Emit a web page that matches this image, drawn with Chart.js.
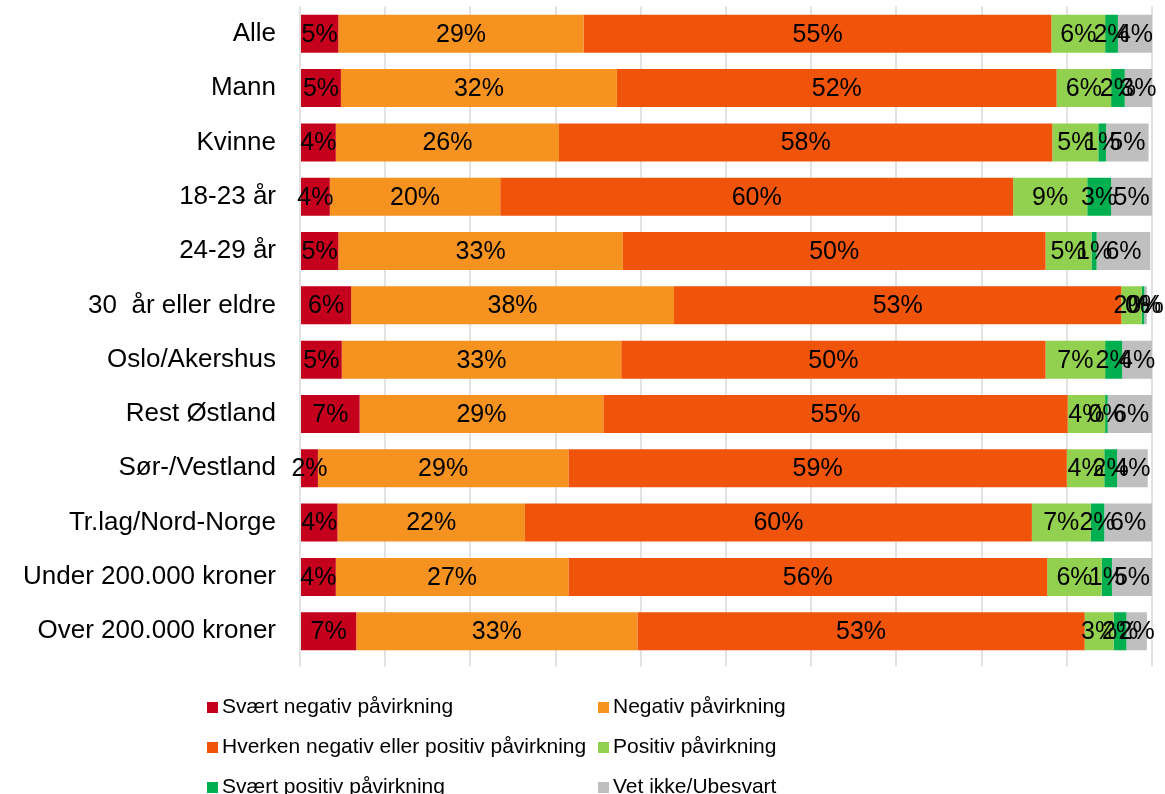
<!DOCTYPE html>
<html>
<head>
<meta charset="utf-8">
<script src="https://cdn.jsdelivr.net/npm/chart.js@4/dist/chart.umd.min.js"></script>
<style>
  body { margin: 0; background: #fff; font-family: "Liberation Sans", Arial, sans-serif; }
  #wrap { position: relative; width: 1165px; height: 794px; overflow: hidden; }
  #chart { position: absolute; left: 0; top: -33px; }
  #legend { position: absolute; left: 0; top: 686px; width: 1165px; }
  .item { position: absolute; font-size: 21px; color: #000; white-space: nowrap; line-height: 40px; }
  .box { display: inline-block; width: 11px; height: 11px; margin-right: 4px; vertical-align: 0px; }
</style>
</head>
<body>
<div id="wrap">
  <canvas id="chart" width="1165" height="731"></canvas>
  <div id="legend"></div>
</div>
<script>
// Kategorier (rader)
const categories = [
  "Alle", "Mann", "Kvinne", "18-23 år", "24-29 år", "30  år eller eldre",
  "Oslo/Akershus", "Rest Østland", "Sør-/Vestland", "Tr.lag/Nord-Norge",
  "Under 200.000 kroner", "Over 200.000 kroner"
];

// Andeler i prosent, lest av figuren
const sværtNegativ = [4.5, 4.8, 4.2, 3.5, 4.5, 6.0, 4.9, 7.0, 2.1, 4.4, 4.2, 6.6];
const negativ      = [28.8, 32.4, 26.2, 20.0, 33.4, 37.9, 32.8, 28.6, 29.4, 22.0, 27.3, 33.0];
const hverken      = [54.9, 51.6, 57.9, 60.2, 49.6, 52.5, 49.8, 54.5, 58.5, 59.5, 56.2, 52.5];
const positiv      = [6.3, 6.4, 5.4, 8.7, 5.4, 2.4, 7.0, 4.4, 4.4, 6.9, 6.4, 3.4];
const sværtPositiv = [1.5, 1.6, 0.9, 2.8, 0.6, 0.3, 2.0, 0.3, 1.5, 1.6, 1.2, 1.5];
const vetIkke      = [4.0, 3.2, 5.0, 4.8, 6.3, 0.3, 3.5, 5.5, 3.6, 5.6, 4.7, 2.4];

const seriesNames = [
  "Svært negativ påvirkning", "Negativ påvirkning",
  "Hverken negativ eller positiv påvirkning", "Positiv påvirkning",
  "Svært positiv påvirkning", "Vet ikke/Ubesvart"
];
const seriesData = [sværtNegativ, negativ, hverken, positiv, sværtPositiv, vetIkke];
const seriesColors = ["#C4001C", "#F59220", "#F0530A", "#92D050", "#00B050", "#BFBFBF"];

const FONT = '"Liberation Sans", Arial, sans-serif';

// Enkel etikett-plugin: skriver prosent midt i hvert segment
const prosentEtiketter = {
  id: "prosentEtiketter",
  afterDatasetsDraw(chart) {
    const ctx = chart.ctx;
    ctx.save();
    ctx.font = "25px " + FONT;
    ctx.fillStyle = "#000";
    ctx.textAlign = "center";
    ctx.textBaseline = "middle";
    chart.data.datasets.forEach((ds, i) => {
      const meta = chart.getDatasetMeta(i);
      meta.data.forEach((el, j) => {
        const v = ds.data[j];
        if (v == null) return;
        const cx = (el.x + el.base) / 2;
        ctx.fillText(Math.round(v) + "%", cx, el.y + 1);
      });
    });
    ctx.restore();
  }
};

const chart = new Chart(document.getElementById("chart").getContext("2d"), {
  type: "bar",
  data: {
    labels: categories,
    datasets: seriesData.map((d, i) => ({
      label: seriesNames[i],
      data: d,
      backgroundColor: seriesColors[i],
      borderWidth: 0,
      barPercentage: 0.7,
      categoryPercentage: 1.0,
    })),
  },
  options: {
    indexAxis: "y",
    responsive: false,
    animation: false,
    layout: { padding: { top: 0, right: 13, left: 0, bottom: 0 } },
    plugins: {
      legend: { display: false },
      tooltip: { enabled: false },
    },
    scales: {
      x: {
        stacked: true,
        min: 0,
        max: 100,
        border: { display: false },
        grid: { color: "#E2E2E2", lineWidth: 2, drawTicks: true, tickLength: 8 },
        ticks: { stepSize: 10, callback: () => "" },
        afterFit: (s) => { s.height = 10; },
      },
      y: {
        stacked: true,
        border: { display: false },
        grid: { display: false, drawTicks: false },
        ticks: { color: "#000", font: { family: FONT, size: 26 }, padding: 24 },
        afterFit: (s) => { s.width = 300; },
      },
    },
  },
  plugins: [prosentEtiketter],
});

// Forklaring i to kolonner
const legend = document.getElementById("legend");
const cols = [207, 598];
seriesNames.forEach((name, i) => {
  const div = document.createElement("div");
  div.className = "item";
  div.style.left = cols[i % 2] + "px";
  div.style.top = Math.floor(i / 2) * 40 + "px";
  div.innerHTML = '<span class="box" style="background:' + seriesColors[i] + '"></span>' + name;
  legend.appendChild(div);
});
</script>
</body>
</html>
